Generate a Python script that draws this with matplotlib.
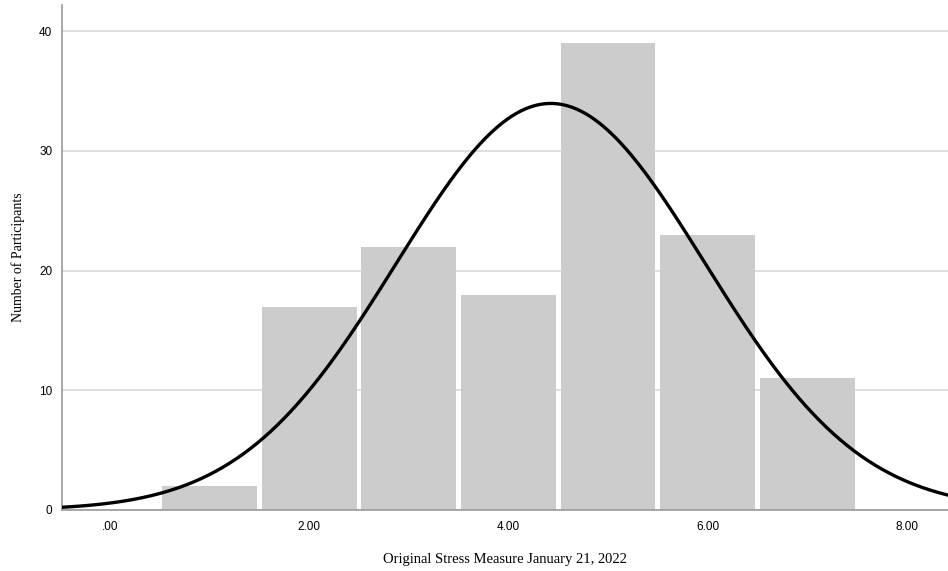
import matplotlib.pyplot as plt
import numpy as np

# Histogram bins (midpoints) and counts
bin_centers = [1, 2, 3, 4, 5, 6, 7]
counts = [2, 17, 22, 18, 39, 23, 11]

# Normal fit parameters
mean = 4.424
sd = 1.550
n_total = 132
bin_width = 1.0

xticks = [0, 2, 4, 6, 8]
xtick_labels = ['.00', '2.00', '4.00', '6.00', '8.00']
yticks = [0, 10, 20, 30, 40]

fig = plt.figure(figsize=(9.48, 5.71), dpi=100)
ax = fig.add_axes([62 / 948, 61 / 571, 886 / 948, 505 / 571])

ax.bar(bin_centers, counts, width=0.95, color='#cccccc', zorder=2)

xs = np.linspace(-0.6, 8.6, 400)
ys = n_total * bin_width / (sd * np.sqrt(2 * np.pi)) * np.exp(-0.5 * ((xs - mean) / sd) ** 2)
ax.plot(xs, ys, color='black', linewidth=2.4, zorder=3)

ax.set_xlim(-0.48, 8.41)
ax.set_ylim(0, 42.2)
ax.set_xticks(xticks)
ax.set_xticklabels(xtick_labels)
ax.set_yticks(yticks)
ax.yaxis.grid(True, color='#d9d9d9', linewidth=1.2, zorder=1)
ax.set_axisbelow(True)
ax.tick_params(length=0, labelsize=8.5, pad=8)
ax.tick_params(axis='y', pad=7)
for lbl in ax.get_xticklabels() + ax.get_yticklabels():
    lbl.set_family('Liberation Sans')

for side in ['top', 'right']:
    ax.spines[side].set_visible(False)
for side in ['left', 'bottom']:
    ax.spines[side].set_color('#999999')
    ax.spines[side].set_linewidth(1.2)

ax.set_xlabel('Original Stress Measure January 21, 2022', family='Liberation Serif',
              fontsize=10.5, labelpad=14)
ax.set_ylabel('Number of Participants', family='Liberation Serif', fontsize=10,
              labelpad=10)

plt.savefig('out.png', dpi=100)
